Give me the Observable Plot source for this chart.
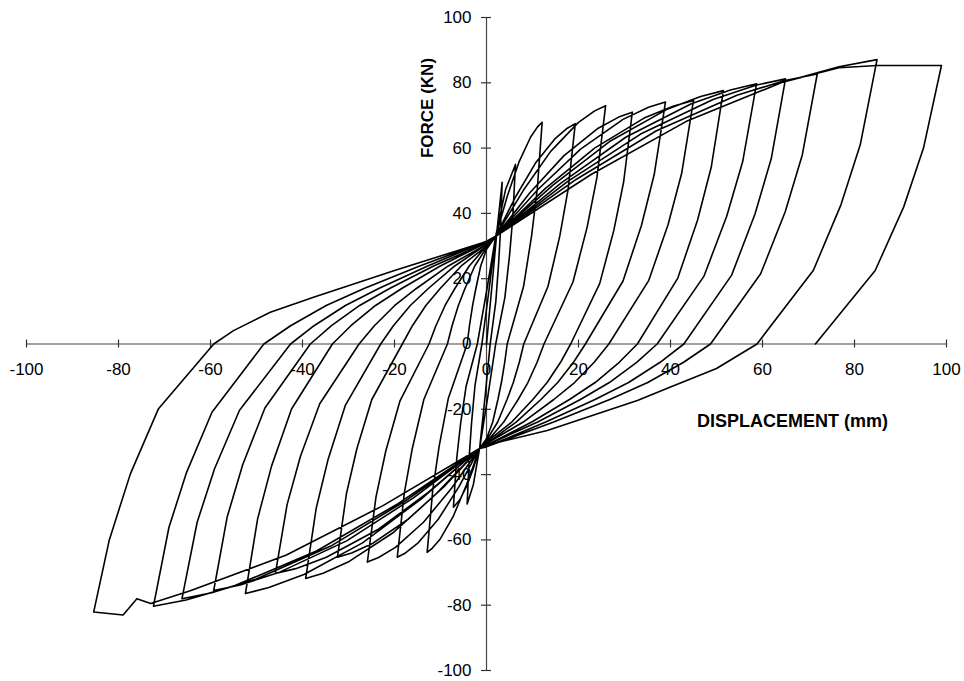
<!DOCTYPE html>
<html>
<head>
<meta charset="utf-8">
<script src="https://cdn.jsdelivr.net/npm/d3@7"></script>
<script src="https://cdn.jsdelivr.net/npm/@observablehq/plot@0.6"></script>
<style>
  html, body { margin: 0; padding: 0; background: #fff; }
  #chart svg { display: block; }
</style>
</head>
<body>
<div id="chart"></div>
<script>
// Tick values
const xTicks = [-100, -80, -60, -40, -20, 0, 20, 40, 60, 80, 100];
const yTicks = [-100, -80, -60, -40, -20, 0, 20, 40, 60, 80, 100];
const xLabel = "DISPLACEMENT (mm)";
const yLabel = "FORCE (KN)";

// Hysteresis record, [displacement mm, force kN], one array per cycle
const cycle1 = [[0,0],[1.2,18],[2.3,35],[3.4,49.5],[3.04,34.7],[2.62,24.3],[2.02,12.9],[0.8,0],[-0.3,-16],[-1.5,-32],[-2.85,-43],[-4.2,-49],[-3.75,-34.3],[-3.24,-24],[-2.5,-12.7],[-1,0],[0.5,16],[2,33]];
const cycle2 = [[4.15,47.3],[6.3,55],[5.7,38.5],[5.0,27],[4.0,14.3],[2,0],[0.3,-16],[-1.5,-32],[-2.9,-38.3],[-4.35,-43.7],[-5.8,-47.7],[-7.2,-50],[-6.47,-35],[-5.64,-24.5],[-4.44,-13],[-2,0],[0,16],[2,33]];
const cycle3 = [[4.5,45.2],[7.05,55.7],[9.6,63.4],[11.1,66.5],[12.1,67.9],[11.04,47.5],[9.82,33.3],[8.07,17.7],[4.5,0],[3.96,-5.6],[3.24,-11.8],[2.48,-17],[1.35,-23.9],[0,-29],[-1.5,-32],[-4.35,-43.1],[-7.2,-52.7],[-10.05,-59.7],[-11.76,-62.5],[-12.9,-63.8],[-11.68,-44.7],[-10.29,-31.3],[-8.29,-16.6],[-4.2,0],[-3.7,5.6],[-3.02,11.8],[-2.31,17],[-1.26,23.9],[0,29],[2,33]];
const cycle4 = [[6.33,45.1],[10.65,55.4],[14.98,63],[17.57,66.1],[19.3,67.5],[17.73,47.3],[15.94,33.1],[13.36,17.6],[8.1,0],[7.13,-5.6],[5.83,-11.8],[4.46,-17],[2.43,-23.9],[0,-29.5],[-1.5,-32],[-5.98,-43.7],[-10.45,-53.6],[-14.93,-61],[-17.61,-64],[-19.4,-65.3],[-17.87,-45.7],[-16.13,-32],[-13.62,-17],[-8.5,0],[-7.48,5.6],[-6.12,11.8],[-4.68,17],[-2.55,23.9],[0,29.5],[2,33]];
const cycle5 = [[7.98,47],[13.95,59],[19.93,67.8],[23.51,71.4],[25.9,73],[24.02,51.1],[21.88,35.8],[18.8,19],[12.5,0],[11,-5.6],[9,-11.8],[6.88,-17],[3.75,-23.9],[0,-30],[-1.5,-32],[-7.6,-44.2],[-13.7,-54.6],[-19.8,-62.3],[-23.46,-65.4],[-25.9,-66.8],[-24.02,-46.8],[-21.88,-32.7],[-18.8,-17.4],[-12.5,0],[-11,5.6],[-9,11.8],[-6.88,17],[-3.75,23.9],[0,30],[2,33]];
const cycle6 = [[9.43,46.3],[16.85,57.7],[24.28,66.1],[28.73,69.5],[31.7,71],[29.82,49.7],[27.68,34.8],[24.6,18.5],[18.3,0],[16.1,-5.6],[13.18,-11.8],[10.07,-17],[5.49,-23.9],[0,-30],[-1.5,-32],[-9.23,-43.7],[-16.95,-53.6],[-24.68,-61],[-29.31,-64],[-32.4,-65.3],[-30.43,-45.7],[-28.17,-32],[-24.93,-17],[-18.3,0],[-16.1,5.6],[-13.18,11.8],[-10.07,17],[-5.49,23.9],[0,30],[2,33]];
const cycle7 = [[11.23,47.4],[20.45,59.7],[29.68,68.8],[35.21,72.5],[38.9,74.1],[36.46,51.9],[33.68,36.3],[29.68,19.3],[21.5,0],[18.92,-5.6],[15.48,-11.8],[11.83,-17],[6.45,-23.9],[0,-30.5],[-1.5,-32],[-10.95,-45.9],[-20.4,-57.9],[-29.85,-66.6],[-35.52,-70.2],[-39.3,-71.8],[-37.02,-50.3],[-34.41,-35.2],[-30.66,-18.7],[-23,0],[-20.24,5.6],[-16.56,11.8],[-12.65,17],[-6.9,23.9],[0,30.5],[2,33]];
const cycle8 = [[12.75,47.6],[23.5,60],[34.25,69.2],[40.7,72.9],[45,74.6],[42.42,52.2],[39.48,36.6],[35.25,19.4],[26.6,0],[23.41,-5.6],[19.15,-11.8],[14.63,-17],[7.98,-23.9],[0,-30.5],[-1.5,-32],[-12.6,-45.4],[-23.7,-56.9],[-34.8,-65.3],[-41.46,-68.8],[-45.9,-70.3],[-43.35,-49.2],[-40.44,-34.4],[-36.25,-18.3],[-27.7,0],[-24.38,5.6],[-19.94,11.8],[-15.24,17],[-8.31,23.9],[0,30.5],[2,33]];
const cycle9 = [[14.38,48.6],[26.75,62],[39.13,71.8],[46.55,75.8],[51.5,77.6],[48.88,54.3],[45.89,38],[41.59,20.2],[32.8,0],[28.86,-5.6],[23.62,-11.8],[18.04,-17],[9.84,-23.9],[0,-31],[-1.5,-32],[-14.23,-47.5],[-26.95,-60.9],[-39.68,-70.6],[-47.31,-74.6],[-52.4,-76.4],[-49.75,-53.5],[-46.73,-37.4],[-42.38,-19.9],[-33.5,0],[-29.48,5.6],[-24.12,11.8],[-18.43,17],[-10.05,23.9],[0,31],[2,33]];
const cycle10 = [[16.18,49.3],[30.35,63.4],[44.53,73.6],[53.03,77.8],[58.7,79.7],[55.68,55.8],[52.22,39.1],[47.25,20.7],[37.1,0],[32.65,-5.6],[26.71,-11.8],[20.41,-17],[11.13,-23.9],[0,-31],[-1.5,-32],[-15.95,-47.2],[-30.4,-60.3],[-44.85,-69.8],[-53.52,-73.8],[-59.3,-75.5],[-56.36,-52.9],[-53,-37],[-48.17,-19.6],[-38.3,0],[-33.7,5.6],[-27.58,11.8],[-21.07,17],[-11.49,23.9],[0,31],[2,33]];
const cycle11 = [[17.75,49.9],[33.5,64.3],[49.25,74.9],[58.7,79.3],[65,81.2],[61.91,56.8],[58.37,39.8],[53.29,21.1],[42.9,0],[37.75,-5.6],[30.89,-11.8],[23.6,-17],[12.87,-23.9],[0,-31.5],[-1.5,-32],[-17.68,-48.1],[-33.85,-61.9],[-50.03,-72],[-59.73,-76.2],[-66.2,-78],[-62.9,-54.6],[-59.12,-38.2],[-53.69,-20.3],[-42.6,0],[-37.49,5.6],[-30.67,11.8],[-23.43,17],[-12.78,23.9],[0,31.5],[2,33]];
const cycle12 = [[19.48,50.4],[36.95,65.3],[54.43,76.2],[64.91,80.7],[71.9,82.7],[68.65,57.9],[64.94,40.5],[59.6,21.5],[48.7,0],[42.86,-5.6],[35.06,-11.8],[26.79,-17],[14.61,-23.9],[0,-31.5],[-1.5,-32],[-19.23,-48.9],[-36.95,-63.4],[-54.68,-74],[-65.31,-78.4],[-72.4,-80.3],[-69.04,-56.2],[-65.2,-39.3],[-59.68,-20.9],[-48.4,0],[-42.59,5.6],[-34.85,11.8],[-26.62,17],[-14.52,23.9],[0,31.5],[2,33]];
const cycle13 = [[22.73,51.9],[43.45,68.2],[64.18,80.1],[76.61,84.9],[84.9,87.1],[81.25,61],[77.07,42.7],[71.07,22.6],[58.8,0],[50,-7.5],[40,-13.2],[32.8,-17.3],[13.2,-26.5],[0,-31],[-1.5,-32],[-22.5,-49.5],[-43.5,-64.6],[-64.4,-75.6],[-73,-79.5],[-76,-78],[-79,-83],[-85.4,-82.1],[-82,-60],[-77.4,-39.7],[-71.3,-19.8],[-59.3,0],[-55,4.1],[-47,9.7],[-37.6,14.3],[-20,22.5],[0,31.4],[2,33]];
const cycle14 = [[22.73,51.9],[43.45,68.2],[64.18,80.1],[76.61,84.6],[85,85.3],[98.9,85.3],[95,60],[90.7,42],[84.5,22.5],[71.5,0]];

const cycles = [cycle1, cycle2, cycle3, cycle4, cycle5, cycle6, cycle7, cycle8, cycle9, cycle10, cycle11, cycle12, cycle13, cycle14];
const record = cycles.flat().map(([d, f]) => ({displacement: d, force: f}));

const font = "'Liberation Sans', Arial, Helvetica, sans-serif";

const chart = Plot.plot({
  width: 964,
  height: 681,
  marginLeft: 26,
  marginRight: 18,
  marginTop: 17,
  marginBottom: 11,
  style: {background: "#fff", fontFamily: font},
  x: {domain: [-100, 100], axis: null},
  y: {domain: [-100, 100], axis: null},
  marks: [
    Plot.ruleY([0], {x1: xTicks[0], x2: xTicks[xTicks.length - 1], stroke: "#444", strokeWidth: 1.2}),
    Plot.ruleX([0], {y1: yTicks[0], y2: yTicks[yTicks.length - 1], stroke: "#444", strokeWidth: 1.2}),
    Plot.ruleX(xTicks, {x: d => d, y1: 0, y2: 0, insetTop: -4, insetBottom: -4, stroke: "#333", strokeWidth: 1.2}),
    Plot.ruleY(yTicks, {y: d => d, x1: 0, x2: 0, insetLeft: -5, insetRight: -5, stroke: "#333", strokeWidth: 1.2}),
    Plot.text(xTicks, {x: d => d, y: () => 0, dy: 26, text: d => String(d), fontSize: 17, fill: "#000"}),
    Plot.text(yTicks, {x: () => 0, y: d => d, dx: -15, textAnchor: "end", text: d => String(d), fontSize: 17, fill: "#000"}),
    Plot.line(record, {x: "displacement", y: "force", stroke: "#000", strokeWidth: 1.6, strokeLinejoin: "round"}),
    Plot.text([xLabel], {frameAnchor: "middle", dx: 306, dy: 77, text: d => d, fontSize: 18, fontWeight: "bold", fill: "#000"}),
    Plot.text([yLabel], {frameAnchor: "middle", dx: -59, dy: -236, rotate: -90, text: d => d, fontSize: 17, fontWeight: "bold", fill: "#000"})
  ]
});

document.getElementById("chart").appendChild(chart);
</script>
</body>
</html>
